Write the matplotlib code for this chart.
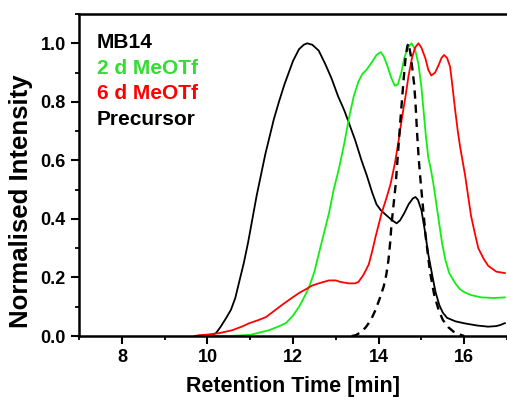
import matplotlib
matplotlib.use("Agg")
import matplotlib.pyplot as plt
from matplotlib.ticker import MultipleLocator, FormatStrFormatter

plt.rcParams['font.family'] = ['Liberation Sans', 'DejaVu Sans']
plt.rcParams['font.weight'] = 'bold'

# MB14 (black solid)
mb14_t = [10.05, 10.2, 10.3, 10.43, 10.55, 10.65, 10.75, 10.85, 10.95, 11.05, 11.15, 11.25,
          11.35, 11.45, 11.55, 11.67, 11.8, 11.9, 12.0, 12.14, 12.25, 12.33, 12.45, 12.6,
          12.75, 12.9, 13.05, 13.2, 13.3, 13.45, 13.6, 13.72, 13.85, 13.95, 14.05, 14.2,
          14.32, 14.42, 14.5, 14.6, 14.7, 14.8, 14.86, 14.92, 15.0, 15.08, 15.16, 15.25,
          15.33, 15.42, 15.5, 15.6, 15.8, 16.02, 16.3, 16.56, 16.75, 16.85, 16.95]
mb14_i = [0.0, 0.01, 0.03, 0.06, 0.09, 0.13, 0.19, 0.25, 0.32, 0.40, 0.48, 0.55,
          0.62, 0.68, 0.74, 0.80, 0.86, 0.90, 0.94, 0.98, 0.995, 1.0, 0.995, 0.975,
          0.93, 0.88, 0.82, 0.77, 0.73, 0.67, 0.60, 0.55, 0.49, 0.45, 0.43, 0.41,
          0.395, 0.385, 0.395, 0.42, 0.45, 0.47, 0.475, 0.465, 0.43, 0.36, 0.28, 0.21,
          0.15, 0.105, 0.08, 0.062, 0.05, 0.043, 0.036, 0.032, 0.034, 0.038, 0.044]

# 2 d MeOTf (green)
d2_t = [9.98, 10.5, 11.0, 11.44, 11.7, 11.84, 12.0, 12.14, 12.25, 12.37, 12.5, 12.6,
        12.72, 12.84, 12.95, 13.07, 13.2, 13.3, 13.42, 13.53, 13.62, 13.72, 13.84, 13.95,
        14.05, 14.12, 14.2, 14.3, 14.38, 14.45, 14.53, 14.6, 14.68, 14.77, 14.85, 14.93,
        15.0, 15.05, 15.1, 15.16, 15.22, 15.28, 15.34, 15.4, 15.48, 15.56, 15.65, 15.79,
        15.9, 16.0, 16.16, 16.4, 16.7, 16.95]
d2_i = [0.0, 0.0, 0.004, 0.02, 0.035, 0.045, 0.07, 0.10, 0.13, 0.165, 0.22, 0.28,
        0.35, 0.42, 0.50, 0.57, 0.66, 0.74, 0.82, 0.87, 0.895, 0.91, 0.935, 0.96,
        0.97, 0.955, 0.925, 0.88, 0.855, 0.86, 0.90, 0.95, 0.985, 1.0, 0.98, 0.93,
        0.85, 0.77, 0.69, 0.61, 0.57, 0.52, 0.46, 0.40, 0.32, 0.26, 0.215, 0.18,
        0.16, 0.15, 0.14, 0.132, 0.13, 0.132]

# 6 d MeOTf (red)
d6_t = [9.7, 9.81, 10.0, 10.28, 10.58, 10.8, 10.98, 11.2, 11.37, 11.55, 11.74, 11.95,
        12.14, 12.3, 12.44, 12.6, 12.84, 13.0, 13.1, 13.3, 13.45, 13.53, 13.65, 13.77,
        13.85, 13.93, 14.0, 14.07, 14.18, 14.28, 14.38, 14.47, 14.55, 14.63, 14.7, 14.78,
        14.85, 14.93, 15.0, 15.09, 15.16, 15.23, 15.32, 15.4, 15.47, 15.53, 15.6, 15.67,
        15.72, 15.79, 15.85, 15.9, 15.96, 16.02, 16.1, 16.16, 16.25, 16.33, 16.45, 16.56,
        16.75, 16.95]
d6_i = [0.0, 0.003, 0.005, 0.01, 0.02, 0.032, 0.044, 0.055, 0.065, 0.085, 0.106, 0.128,
        0.147, 0.16, 0.172, 0.18, 0.19, 0.19, 0.185, 0.18, 0.18, 0.185, 0.21, 0.245,
        0.29, 0.34, 0.38, 0.42, 0.47, 0.52, 0.59, 0.67, 0.75, 0.82, 0.89, 0.95,
        0.985, 1.0, 0.985, 0.95, 0.91, 0.89, 0.90, 0.925, 0.95, 0.96, 0.95, 0.92,
        0.86, 0.77, 0.70, 0.65, 0.60, 0.55, 0.47, 0.41, 0.35, 0.30, 0.265, 0.24,
        0.22, 0.215]

# Precursor (black dashed)
pre_t = [13.37, 13.47, 13.6, 13.7, 13.82, 13.93, 14.03, 14.12, 14.18, 14.23, 14.27, 14.3,
         14.35, 14.4, 14.45, 14.51, 14.58, 14.63, 14.67, 14.7, 14.75, 14.79, 14.83, 14.86,
         14.9, 14.94, 14.98, 15.03, 15.1, 15.2, 15.3, 15.4, 15.5, 15.63, 15.75, 15.86, 16.0]
pre_i = [0.0, 0.003, 0.015, 0.03, 0.055, 0.09, 0.13, 0.17, 0.21, 0.26, 0.32, 0.38,
         0.45, 0.52, 0.62, 0.74, 0.87, 0.95, 0.99, 1.0, 0.96, 0.91, 0.86, 0.80,
         0.69, 0.60, 0.53, 0.45, 0.34, 0.22, 0.14, 0.09, 0.055, 0.03, 0.015, 0.007, 0.0]

labels = ['MB14', '2 d MeOTf', '6 d MeOTf', 'Precursor']
label_colors = ['black', '#33dd33', '#ff0000', 'black']

fig = plt.figure(figsize=(5.07, 4.01), dpi=100)
ax = fig.add_axes([0.156, 0.162, 0.844, 0.803])

ax.plot(mb14_t, mb14_i, color='black', lw=1.3)
ax.plot(d2_t, d2_i, color='#11ee11', lw=1.3)
ax.plot(d6_t, d6_i, color='#ff0000', lw=1.3)
ax.plot(pre_t, pre_i, color='black', lw=1.7, ls=(0, (3.5, 2.5)))

ax.set_xlim(7, 17)
ax.set_ylim(0, 1.1)
ax.xaxis.set_major_locator(MultipleLocator(2))
ax.xaxis.set_minor_locator(MultipleLocator(1))
ax.yaxis.set_major_locator(MultipleLocator(0.2))
ax.yaxis.set_minor_locator(MultipleLocator(0.1))
ax.yaxis.set_major_formatter(FormatStrFormatter('%.1f'))

ax.spines['right'].set_visible(False)
for s in ['left', 'bottom', 'top']:
    ax.spines[s].set_linewidth(1.8)
ax.tick_params(which='major', direction='out', length=6, width=1.5, labelsize=13)
ax.tick_params(which='minor', direction='out', length=3, width=1.3)
for lab in ax.get_xticklabels() + ax.get_yticklabels():
    lab.set_fontweight('bold')

ax.set_xlabel('Retention Time [min]', fontsize=15.5, fontweight='bold')
ax.set_ylabel('Normalised Intensity', fontsize=18.5, fontweight='bold')
ax.xaxis.set_label_coords(0.5, -0.125)
ax.yaxis.set_label_coords(-0.135, 0.42)
ax.yaxis.label.set_va('center')

for k, (lab, c) in enumerate(zip(labels, label_colors)):
    ax.text(7.42, 0.983 - k * 0.087, lab, color=c, fontsize=15, fontweight='bold',
            va='baseline', ha='left')

fig.savefig('out.png', dpi=100)
